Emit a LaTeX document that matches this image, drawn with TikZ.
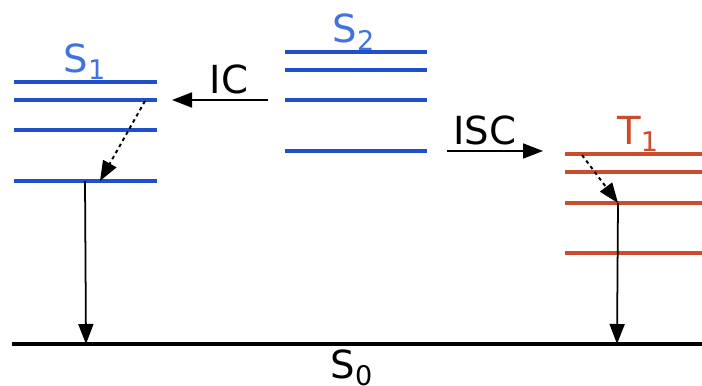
\documentclass[tikz,border=0pt]{standalone}
\usepackage{fontspec}
\setmainfont{DejaVu Sans}
\usetikzlibrary{arrows.meta}
\definecolor{sng}{RGB}{30,80,205}
\definecolor{sngl}{RGB}{65,115,220}
\definecolor{trp}{RGB}{205,75,45}

\begin{document}
\begin{tikzpicture}[x=0.02cm,y=-0.02cm,font=\fontsize{22}{26}\selectfont,
  >={Triangle[length=4mm,width=3mm]},
  lvs/.style={draw=sng,line width=1.9pt},
  lvt/.style={draw=trp,line width=1.9pt},
  gnd/.style={draw=black,line width=2.1pt},
  rel/.style={->,line width=1pt},
  vib/.style={->,dash pattern=on 2pt off 2pt,line width=1.1pt},
  lbl/.style={inner sep=0pt}]
  \useasboundingbox (0,0) rectangle (702,385);
  % singlet S1
  \foreach \y in {82,100,130,181} \draw[lvs] (14,\y) -- (157,\y);
  % singlet S2
  \foreach \y in {52,70,100,151} \draw[lvs] (285,\y) -- (427,\y);
  % triplet T1
  \foreach \y in {154,172,203,253} \draw[lvt] (565,\y) -- (702,\y);
  % ground state
  \draw[gnd] (12,344) -- (702,344);
  \node[lbl,text=sngl] (s1) at (85,62) {S\textsubscript{1}};
  \node[lbl,text=sngl] (s2) at (354,32) {S\textsubscript{2}};
  \node[lbl,text=trp] (t1) at (638,134) {T\textsubscript{1}};
  \node[lbl] (s0) at (352,368) {S\textsubscript{0}};
  \node[lbl] (ic) at (229,79) {IC};
  \node[lbl] (isc) at (485,130) {ISC};
  \coordinate (icA) at (268,100); \coordinate (icB) at (172,100);
  \coordinate (iscA) at (447,151); \coordinate (iscB) at (543,151);
  \coordinate (s1top) at (145,101); \coordinate (s1low) at (100,181);
  \coordinate (s1foot) at (85,181);
  \coordinate (t1top) at (582,155); \coordinate (t1low) at (618,203);
  \coordinate (s1gnd) at (86,344); \coordinate (t1gnd) at (617,344);
  \draw[rel] (icA) -- (icB);
  \draw[rel] (iscA) -- (iscB);
  \draw[vib] (s1top) -- (s1low);
  \draw[vib] (t1top) -- (t1low);
  \draw[rel] (s1foot) -- (s1gnd);
  \draw[rel] (t1low) -- (t1gnd);
\end{tikzpicture}
\end{document}
